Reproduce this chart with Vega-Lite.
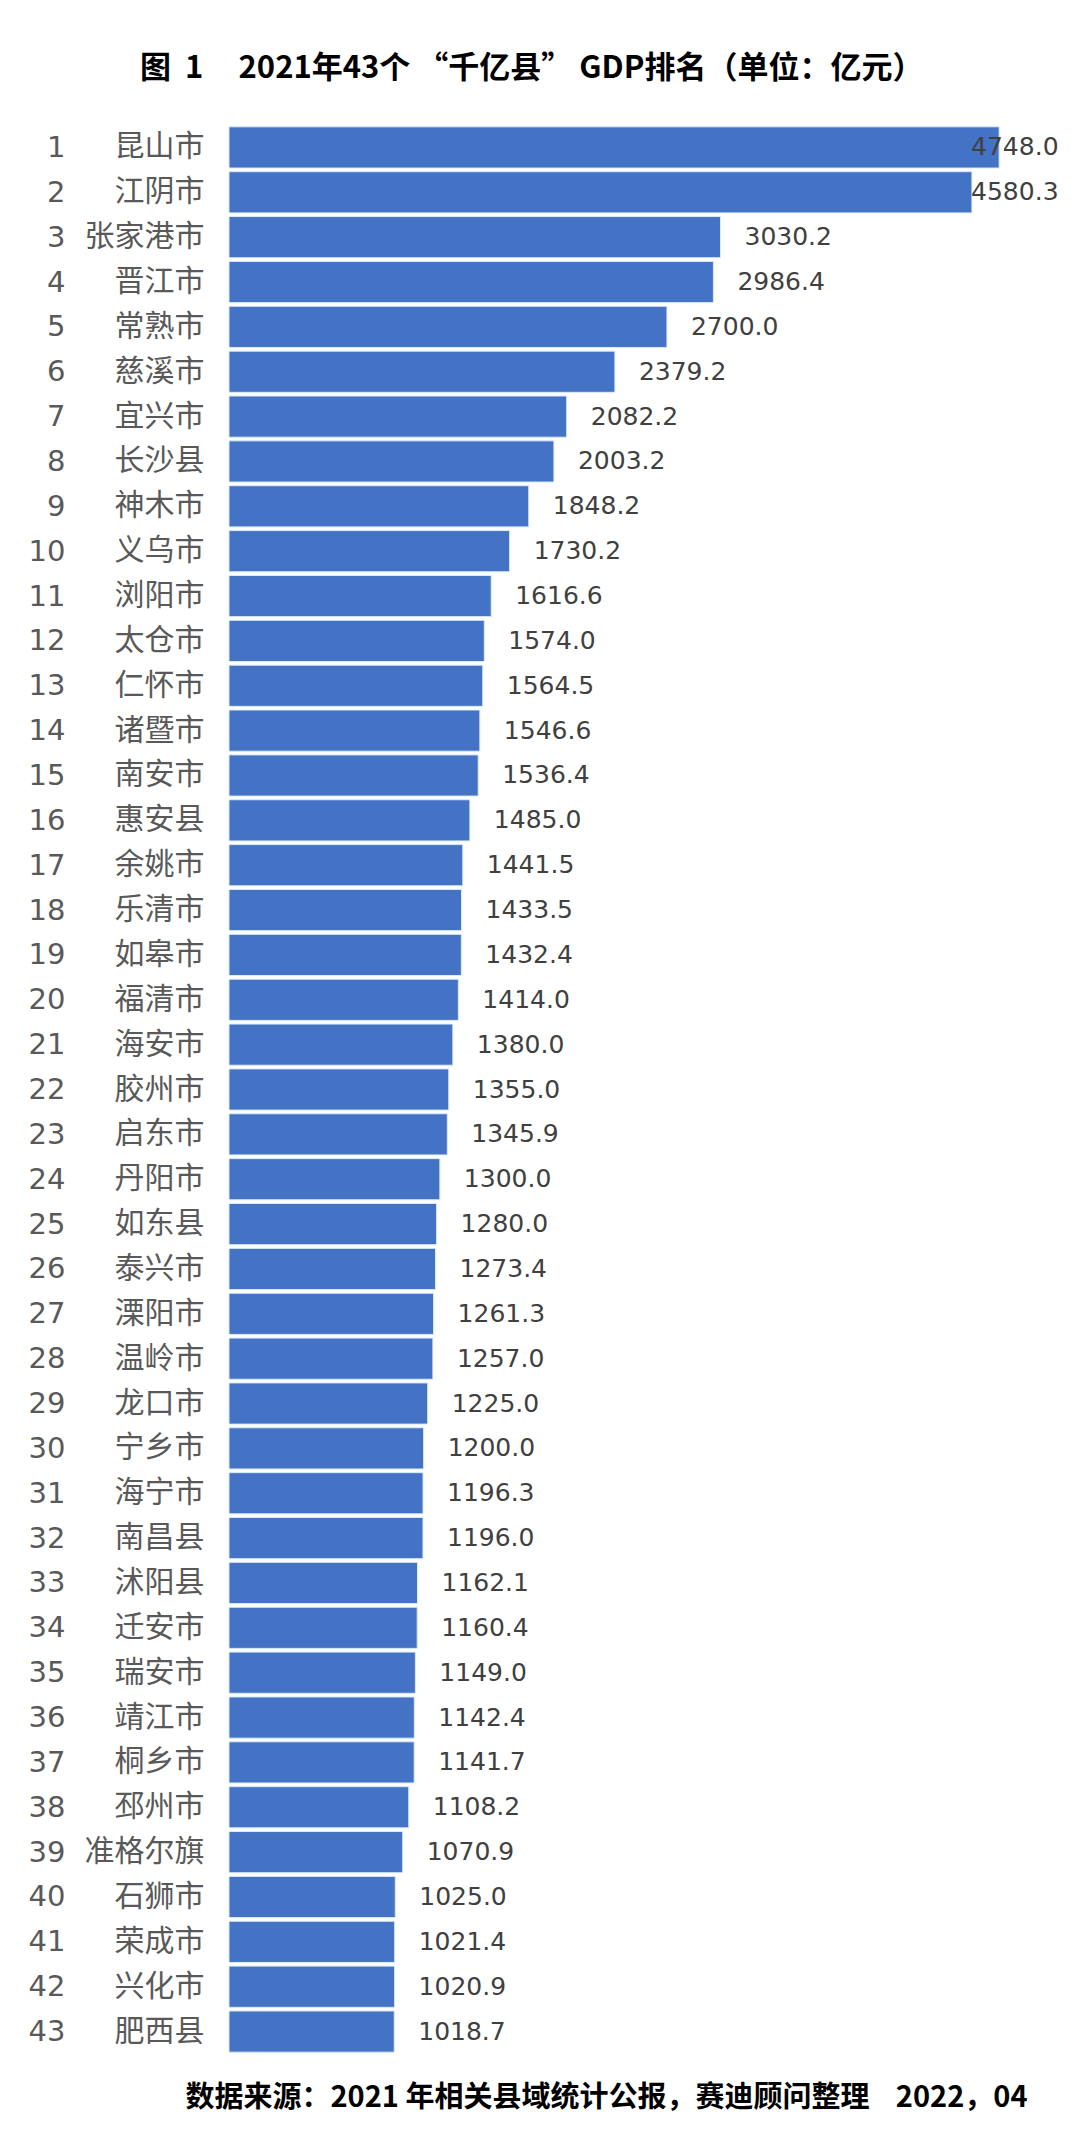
{
  "$schema": "https://vega.github.io/schema/vega-lite/v6.json",
  "width": 811,
  "height": 1929,
  "autosize": {"type": "none"},
  "padding": {"left": 229, "top": 125, "right": 40, "bottom": 95},
  "background": "white",
  "title": {
    "text": "图\u00a0\u00a01\u00a0\u00a0\u00a0\u00a0\u00a02021年43个\u00a0“千亿县”\u00a0GDP排名（单位：亿元）",
    "font": "Noto Sans CJK SC",
    "fontWeight": "bold",
    "fontSize": 31,
    "color": "#000000",
    "anchor": "start",
    "frame": "group",
    "baseline": "middle",
    "dx": -89,
    "offset": 25
  },
  "config": {"view": {"stroke": null}},
  "data": {
    "values": [
      {"rank": 1, "name": "昆山市", "gdp": 4748.0},
      {"rank": 2, "name": "江阴市", "gdp": 4580.3},
      {"rank": 3, "name": "张家港市", "gdp": 3030.2},
      {"rank": 4, "name": "晋江市", "gdp": 2986.4},
      {"rank": 5, "name": "常熟市", "gdp": 2700.0},
      {"rank": 6, "name": "慈溪市", "gdp": 2379.2},
      {"rank": 7, "name": "宜兴市", "gdp": 2082.2},
      {"rank": 8, "name": "长沙县", "gdp": 2003.2},
      {"rank": 9, "name": "神木市", "gdp": 1848.2},
      {"rank": 10, "name": "义乌市", "gdp": 1730.2},
      {"rank": 11, "name": "浏阳市", "gdp": 1616.6},
      {"rank": 12, "name": "太仓市", "gdp": 1574.0},
      {"rank": 13, "name": "仁怀市", "gdp": 1564.5},
      {"rank": 14, "name": "诸暨市", "gdp": 1546.6},
      {"rank": 15, "name": "南安市", "gdp": 1536.4},
      {"rank": 16, "name": "惠安县", "gdp": 1485.0},
      {"rank": 17, "name": "余姚市", "gdp": 1441.5},
      {"rank": 18, "name": "乐清市", "gdp": 1433.5},
      {"rank": 19, "name": "如皋市", "gdp": 1432.4},
      {"rank": 20, "name": "福清市", "gdp": 1414.0},
      {"rank": 21, "name": "海安市", "gdp": 1380.0},
      {"rank": 22, "name": "胶州市", "gdp": 1355.0},
      {"rank": 23, "name": "启东市", "gdp": 1345.9},
      {"rank": 24, "name": "丹阳市", "gdp": 1300.0},
      {"rank": 25, "name": "如东县", "gdp": 1280.0},
      {"rank": 26, "name": "泰兴市", "gdp": 1273.4},
      {"rank": 27, "name": "溧阳市", "gdp": 1261.3},
      {"rank": 28, "name": "温岭市", "gdp": 1257.0},
      {"rank": 29, "name": "龙口市", "gdp": 1225.0},
      {"rank": 30, "name": "宁乡市", "gdp": 1200.0},
      {"rank": 31, "name": "海宁市", "gdp": 1196.3},
      {"rank": 32, "name": "南昌县", "gdp": 1196.0},
      {"rank": 33, "name": "沭阳县", "gdp": 1162.1},
      {"rank": 34, "name": "迁安市", "gdp": 1160.4},
      {"rank": 35, "name": "瑞安市", "gdp": 1149.0},
      {"rank": 36, "name": "靖江市", "gdp": 1142.4},
      {"rank": 37, "name": "桐乡市", "gdp": 1141.7},
      {"rank": 38, "name": "邳州市", "gdp": 1108.2},
      {"rank": 39, "name": "准格尔旗", "gdp": 1070.9},
      {"rank": 40, "name": "石狮市", "gdp": 1025.0},
      {"rank": 41, "name": "荣成市", "gdp": 1021.4},
      {"rank": 42, "name": "兴化市", "gdp": 1020.9},
      {"rank": 43, "name": "肥西县", "gdp": 1018.7}
    ]
  },
  "transform": [
    {"calculate": "min(datum.gdp, 4427)", "as": "label_x"}
  ],
  "layer": [
    {
      "mark": {"type": "bar", "color": "#4472C4", "stroke": "#d8ecf8", "strokeWidth": 1},
      "encoding": {
        "y": {
          "field": "name",
          "type": "nominal",
          "sort": {"field": "rank", "order": "ascending"},
          "scale": {"paddingInner": 0.082, "paddingOuter": 0.041},
          "axis": {
            "title": null,
            "domain": false,
            "ticks": false,
            "labelPadding": 25,
            "labelFont": "Noto Sans CJK SC",
            "labelFontSize": 30,
            "labelColor": "#595959",
            "labelAlign": "right",
            "labelBaseline": "middle"
          }
        },
        "x": {
          "field": "gdp",
          "type": "quantitative",
          "scale": {"domain": [0, 5000]},
          "axis": {
            "title": "数据来源：2021\u00a0年相关县域统计公报，赛迪顾问整理\u00a0\u00a0\u00a0\u00a02022，04",
            "labels": false,
            "ticks": false,
            "domain": false,
            "grid": false,
            "titleFont": "Noto Sans CJK SC",
            "titleFontWeight": "bold",
            "titleFontSize": 29,
            "titleColor": "#000000",
            "titleAnchor": "end",
            "titleAlign": "right",
            "titleBaseline": "middle",
            "titleX": 798,
            "titleY": 43
          }
        }
      }
    },
    {
      "mark": {
        "type": "text",
        "align": "left",
        "baseline": "middle",
        "dx": 24,
        "font": "DejaVu Sans",
        "fontSize": 25,
        "color": "#404040"
      },
      "encoding": {
        "y": {
          "field": "rank",
          "type": "ordinal",
          "sort": "ascending",
          "scale": {"paddingInner": 0.082, "paddingOuter": 0.041},
          "axis": {
            "orient": "left",
            "title": null,
            "domain": false,
            "ticks": false,
            "labelPadding": 164,
            "labelFont": "DejaVu Sans",
            "labelFontSize": 29,
            "labelColor": "#595959",
            "labelAlign": "right",
            "labelBaseline": "middle"
          }
        },
        "x": {
          "field": "label_x",
          "type": "quantitative",
          "axis": {
            "title": "数据来源：2021\u00a0年相关县域统计公报，赛迪顾问整理\u00a0\u00a0\u00a0\u00a02022，04",
            "labels": false,
            "ticks": false,
            "domain": false,
            "grid": false,
            "titleFont": "Noto Sans CJK SC",
            "titleFontWeight": "bold",
            "titleFontSize": 29,
            "titleColor": "#000000",
            "titleAnchor": "end",
            "titleAlign": "right",
            "titleBaseline": "middle",
            "titleX": 798,
            "titleY": 43
          }
        },
        "text": {"field": "gdp", "type": "quantitative", "format": ".1f"}
      }
    }
  ],
  "resolve": {"scale": {"y": "independent"}}
}
